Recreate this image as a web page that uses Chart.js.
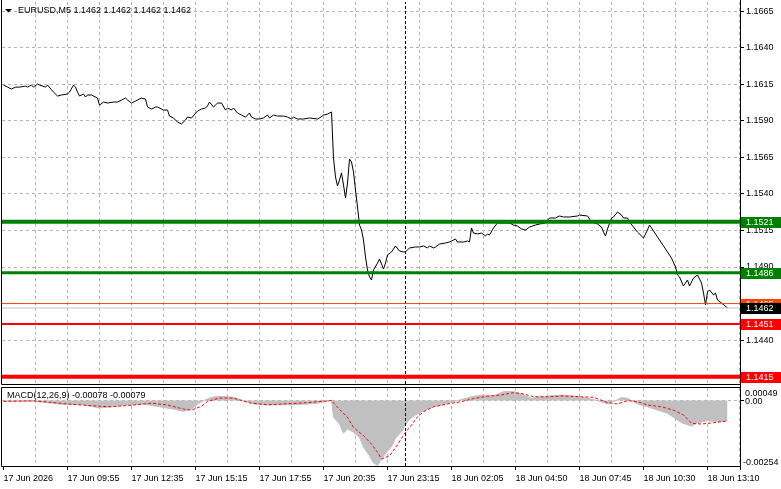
<!DOCTYPE html>
<html>
<head>
<meta charset="utf-8">
<title>EURUSD M5</title>
<script src="https://cdn.jsdelivr.net/npm/chart.js@4.4.1/dist/chart.umd.min.js"></script>
<style>
  html, body { margin: 0; padding: 0; background: #fff; }
  #wrap { position: relative; width: 781px; height: 489px; overflow: hidden; }
  canvas { position: absolute; left: 0; }
  #price { top: 0; }
  #macd { top: 386px; }
</style>
</head>
<body>
<div id="wrap">
  <canvas id="price" width="781" height="386"></canvas>
  <canvas id="macd" width="781" height="103"></canvas>
</div>
<script>
// M5 bars, counted from the first bar on screen
const priceBars = [0, 2, 4, 6, 8, 11, 12, 14, 15, 17, 18, 21, 22, 25, 27, 29, 32, 33, 35, 36, 37, 38, 40, 41, 42, 44, 47, 48, 50, 52, 55, 57, 59, 61, 62, 64, 66, 67, 69, 71, 72, 74, 76, 77, 80, 82, 83, 85, 87, 89, 91, 92, 94, 97, 99, 101, 102, 103, 105, 107, 109, 111, 112, 114, 115, 117, 119, 121, 123, 124, 126, 128, 130, 132, 133, 135, 137, 140, 142, 144, 145, 147, 150, 153, 157, 158, 160, 162, 164, 165, 166, 167, 168, 169, 170, 171, 172, 173, 174, 175, 176, 177, 178, 179, 180, 181, 182, 183, 184, 185, 187, 188, 190, 191, 192, 194, 196, 198, 200, 201, 203, 206, 208, 210, 212, 213, 215, 216, 218, 221, 223, 226, 227, 230, 232, 233, 234, 235, 237, 239, 241, 242, 243, 245, 247, 249, 253, 255, 257, 259, 261, 263, 266, 268, 271, 273, 276, 278, 280, 283, 287, 288, 292, 294, 297, 299, 300, 301, 302, 304, 305, 307, 309, 310, 312, 313, 315, 317, 320, 322, 323, 324, 327, 329, 332, 334, 336, 337, 338, 340, 342, 343, 345, 347, 349, 350, 351, 352, 353, 355, 356, 357, 359, 362];
const priceClose = [1.16144, 1.16130, 1.16117, 1.16130, 1.16130, 1.16137, 1.16130, 1.16144, 1.16130, 1.16151, 1.16144, 1.16130, 1.16144, 1.16096, 1.16069, 1.16076, 1.16083, 1.16096, 1.16144, 1.16130, 1.16096, 1.16069, 1.16083, 1.16062, 1.16076, 1.16076, 1.16055, 1.16007, 1.16028, 1.16021, 1.16028, 1.16028, 1.16042, 1.16055, 1.16042, 1.16021, 1.16035, 1.16042, 1.16055, 1.16048, 1.15994, 1.15980, 1.15994, 1.15994, 1.15973, 1.15973, 1.15932, 1.15919, 1.15891, 1.15878, 1.15905, 1.15925, 1.15919, 1.15966, 1.15980, 1.15987, 1.16001, 1.16028, 1.15994, 1.16021, 1.16021, 1.15973, 1.15987, 1.15973, 1.15987, 1.15953, 1.15939, 1.15925, 1.15953, 1.15925, 1.15912, 1.15912, 1.15919, 1.15939, 1.15919, 1.15939, 1.15932, 1.15932, 1.15925, 1.15912, 1.15925, 1.15912, 1.15912, 1.15919, 1.15912, 1.15919, 1.15939, 1.15946, 1.15960, 1.15645, 1.15515, 1.15454, 1.15495, 1.15543, 1.15461, 1.15372, 1.15474, 1.15638, 1.15618, 1.15549, 1.15426, 1.15310, 1.15187, 1.15153, 1.15085, 1.14968, 1.14880, 1.14832, 1.14811, 1.14880, 1.14927, 1.14955, 1.14886, 1.14927, 1.14982, 1.15003, 1.15044, 1.15009, 1.15003, 1.15003, 1.15030, 1.15037, 1.15037, 1.15044, 1.15030, 1.15044, 1.15030, 1.15037, 1.15057, 1.15064, 1.15071, 1.15091, 1.15071, 1.15071, 1.15078, 1.15071, 1.15167, 1.15132, 1.15126, 1.15132, 1.15112, 1.15126, 1.15119, 1.15167, 1.15201, 1.15201, 1.15201, 1.15187, 1.15180, 1.15160, 1.15153, 1.15173, 1.15187, 1.15194, 1.15201, 1.15235, 1.15235, 1.15249, 1.15242, 1.15242, 1.15249, 1.15255, 1.15249, 1.15208, 1.15194, 1.15173, 1.15139, 1.15112, 1.15160, 1.15235, 1.15242, 1.15276, 1.15255, 1.15235, 1.15235, 1.15208, 1.15173, 1.15139, 1.15098, 1.15153, 1.15187, 1.15167, 1.15105, 1.15064, 1.15003, 1.14961, 1.14900, 1.14845, 1.14832, 1.14770, 1.14811, 1.14770, 1.14825, 1.14845, 1.14791, 1.14722, 1.14640, 1.14729, 1.14743, 1.14709, 1.14722, 1.14674, 1.14654, 1.14620];

const macdBars = [0, 15, 24, 27, 32, 40, 48, 54, 62, 70, 78, 85, 90, 94, 97, 100, 104, 108, 115, 120, 125, 132, 140, 148, 157, 164, 165, 168, 170, 172, 175, 178, 180, 183, 185, 187, 189, 191, 194, 196, 199, 202, 205, 210, 215, 222, 227, 234, 239, 245, 250, 255, 260, 264, 269, 279, 285, 292, 297, 302, 305, 309, 312, 317, 322, 327, 332, 335, 339, 344, 347, 352, 357, 362];
const macdMain = [-0.00002, -0.00002, -0.00010, -0.00013, -0.00016, -0.00016, -0.00029, -0.00024, -0.00016, -0.00013, -0.00024, -0.00033, -0.00042, -0.00033, -0.00013, 0, 0.00013, 0.00017, 0.00013, 0, -0.00013, -0.00017, -0.00016, -0.00016, -0.00010, 0.00002, -0.00065, -0.00091, -0.00127, -0.00110, -0.00123, -0.00143, -0.00181, -0.00214, -0.00242, -0.00252, -0.00228, -0.00205, -0.00179, -0.00146, -0.00121, -0.00082, -0.00060, -0.00039, -0.00024, -0.00010, 0, 0.00015, 0.00022, 0.00018, 0.00035, 0.00035, 0.00022, 0.00009, 0.00015, 0.00022, 0.00018, 0.00009, 0, -0.00013, -0.00004, 0.00012, 0.00009, -0.00013, -0.00024, -0.00037, -0.00049, -0.00065, -0.00086, -0.00099, -0.00086, -0.00078, -0.00082, -0.00078];

const signalBars = [0, 15, 24, 32, 48, 54, 65, 74, 82, 90, 94, 99, 102, 108, 115, 119, 124, 132, 140, 148, 164, 167, 172, 175, 180, 184, 187, 189, 193, 197, 200, 204, 207, 210, 215, 222, 229, 235, 242, 249, 255, 260, 265, 272, 280, 289, 295, 302, 307, 312, 317, 322, 329, 335, 340, 344, 349, 355, 362];
const macdSignal = [-0.00003, -0.00001, -0.00007, -0.00013, -0.00022, -0.00024, -0.00017, -0.00010, -0.00017, -0.00033, -0.00037, -0.00022, -0.00003, 0.00010, 0.00010, 0, -0.00010, -0.00016, -0.00013, -0.00010, 0, -0.00026, -0.00065, -0.00104, -0.00136, -0.00169, -0.00201, -0.00227, -0.00215, -0.00172, -0.00134, -0.00095, -0.00063, -0.00043, -0.00024, -0.00013, -0.00004, 0.00008, 0.00017, 0.00022, 0.00031, 0.00026, 0.00015, 0.00015, 0.00018, 0.00015, 0.00013, -0.00008, -0.00013, 0, -0.00004, -0.00017, -0.00024, -0.00037, -0.00056, -0.00088, -0.00091, -0.00086, -0.00079];

const timeLabels = ['17 Jun 2026', '17 Jun 09:55', '17 Jun 12:35', '17 Jun 15:15', '17 Jun 17:55', '17 Jun 20:35', '17 Jun 23:15', '18 Jun 02:05', '18 Jun 04:50', '18 Jun 07:45', '18 Jun 10:30', '18 Jun 13:10'];
const priceTicks = [1.1665, 1.1640, 1.1615, 1.1590, 1.1565, 1.1540, 1.1515, 1.1490, 1.1465, 1.1440, 1.1415];
const macdTicks = [0.00049, 0, -0.00254];

const greenLevels = [1.1521, 1.1486];
const redLevels = [1.1451, 1.1415];
const askPrice = 1.1465;
const lastPrice = 1.1462;
const separatorBar = 201;

const titleText = 'EURUSD,M5 1.1462 1.1462 1.1462 1.1462';
const macdText = 'MACD(12,26,9) -0.00078 -0.00079';

// ---- look ----
const GRID = '#b4b4b4';
const GREEN = '#008000';
const RED = '#ff0000';
const ORANGE = '#ff4500';
const FONT = '9px "Liberation Sans", Arial, sans-serif';
const X_MIN = -0.75, X_MAX = 368.25;
const P_MIN = 1.14100, P_MAX = 1.16712;
const M_MIN = -0.00254, M_MAX = 0.00049;

Chart.defaults.font.family = '"Liberation Sans", Arial, sans-serif';
Chart.defaults.font.size = 9;
Chart.defaults.color = '#000';
Chart.defaults.animation = false;
Chart.defaults.events = [];
Chart.defaults.plugins.legend.display = false;
Chart.defaults.plugins.tooltip.enabled = false;
Chart.defaults.elements.point.radius = 0;
Chart.defaults.elements.line.borderWidth = 1;

const gridBars = [];
for (let k = 0; k < timeLabels.length * 2; k++) gridBars.push(k * 16);

function hline(v, color, width, order) {
  return { data: [{x: X_MIN, y: v}, {x: X_MAX, y: v}], borderColor: color, borderWidth: width, order: order };
}

// scales keep exactly the box the layout gives them
function fixSize(w, h) {
  return s => {
    if (w !== null) s.width = w;
    if (h !== null) s.height = h;
    s.paddingTop = 0; s.paddingBottom = 0; s.paddingLeft = 0; s.paddingRight = 0;
  };
}

// frame, axis line and panel caption
const panel = {
  id: 'panel',
  afterDraw(chart, args, o) {
    const {ctx, chartArea: a} = chart;
    ctx.save();
    ctx.strokeStyle = '#000';
    ctx.lineWidth = 1;
    ctx.beginPath();
    ctx.moveTo(a.left - 0.5, o.macd ? a.top - 0.5 : 0);
    ctx.lineTo(a.left - 0.5, a.bottom + 0.5);
    ctx.lineTo(a.right + 0.5, a.bottom + 0.5);
    if (o.macd) {
      ctx.moveTo(a.left - 0.5, a.top - 0.5);
      ctx.lineTo(a.right + 0.5, a.top - 0.5);
    }
    ctx.moveTo(a.right + 0.5, 0);
    ctx.lineTo(a.right + 0.5, o.macd ? a.bottom + 4 : chart.height);
    ctx.stroke();

    ctx.font = FONT;
    ctx.fillStyle = '#000';
    ctx.textAlign = 'left';
    ctx.textBaseline = 'middle';
    if (o.macd) {
      ctx.fillText(macdText, a.left + 5, a.top + 8);
    } else {
      ctx.beginPath();
      ctx.moveTo(a.left + 3, a.top + 7);
      ctx.lineTo(a.left + 10, a.top + 7);
      ctx.lineTo(a.left + 6.5, a.top + 10.5);
      ctx.closePath();
      ctx.fill();
      ctx.fillText(titleText, a.left + 16, a.top + 9);
    }
    ctx.restore();
  }
};

// coloured price boxes on the right axis
const priceTags = {
  id: 'priceTags',
  afterDraw(chart) {
    const {ctx, chartArea: a, scales: {y}} = chart;
    const tags = [
      {v: greenLevels[0], bg: GREEN}, {v: greenLevels[1], bg: GREEN},
      {v: askPrice, bg: ORANGE}, {v: lastPrice, bg: '#000'},
      {v: redLevels[0], bg: RED}, {v: redLevels[1], bg: RED}
    ];
    ctx.save();
    ctx.font = FONT;
    ctx.textAlign = 'left';
    ctx.textBaseline = 'middle';
    tags.forEach(t => {
      const py = Math.round(y.getPixelForValue(t.v));
      ctx.fillStyle = t.bg;
      ctx.fillRect(a.right + 1, py - 5, chart.width - a.right - 1, 11);
      ctx.fillStyle = '#fff';
      ctx.fillText(t.v.toFixed(4), a.right + 6, py + 1);
    });
    ctx.restore();
  }
};

// MACD scale labels sit inside the window edges
const macdScaleText = {
  id: 'macdScaleText',
  afterDraw(chart) {
    const {ctx, chartArea: a, scales: {y}} = chart;
    ctx.save();
    ctx.font = FONT;
    ctx.fillStyle = '#000';
    ctx.textAlign = 'left';
    macdTicks.forEach(v => {
      const py = y.getPixelForValue(v);
      if (v > 0) {
        ctx.textBaseline = 'top';
        ctx.fillText(v.toFixed(5), a.right + 5, py + 1);
      } else if (v < 0) {
        ctx.textBaseline = 'alphabetic';
        ctx.fillText(v.toFixed(5), a.right + 3, py - 1);
      } else {
        ctx.textBaseline = 'middle';
        ctx.fillText('0.00', a.right + 5, py + 1);
      }
    });
    ctx.restore();
  }
};

new Chart(document.getElementById('price'), {
  type: 'line',
  data: {
    datasets: [
      hline(greenLevels[0], GREEN, 4, 1),
      hline(greenLevels[1], GREEN, 3, 1),
      hline(redLevels[0], RED, 2, 1),
      hline(redLevels[1], RED, 4, 1),
      hline(askPrice, ORANGE, 1, 1),
      hline(lastPrice, '#c0c0c0', 1, 1),
      {
        data: [{x: separatorBar, y: P_MIN}, {x: separatorBar, y: P_MAX}],
        borderColor: '#000', borderDash: [3, 2], order: 2
      },
      {
        data: priceBars.map((b, i) => ({x: b, y: priceClose[i]})),
        borderColor: '#000', order: 3
      }
    ]
  },
  options: {
    responsive: false,
    layout: { padding: { left: 2, top: 2, bottom: 2, right: 0 }, autoPadding: false },
    scales: {
      x: {
        type: 'linear', min: X_MIN, max: X_MAX,
        afterBuildTicks: s => { s.ticks = gridBars.map(v => ({value: v})); },
        afterFit: fixSize(null, 0),
        grid: { display: true, drawOnChartArea: true, lineWidth: 1, color: c => c.tick && c.tick.value > 0 ? GRID : 'rgba(0,0,0,0)', drawTicks: false },
        border: { display: false, dash: [3, 3] },
        ticks: { display: false }
      },
      y: {
        position: 'right', min: P_MIN, max: P_MAX,
        afterBuildTicks: s => { s.ticks = priceTicks.map(v => ({value: v})); },
        afterFit: fixSize(41, null),
        grid: { display: true, drawOnChartArea: true, lineWidth: 1, color: GRID, tickBorderDash: [], tickColor: '#000', tickLength: 4 },
        border: { display: false, dash: [3, 3] },
        ticks: { padding: 2, color: '#000', callback: v => v.toFixed(4) }
      }
    },
    plugins: { panel: { macd: false } }
  },
  plugins: [panel, priceTags]
});

new Chart(document.getElementById('macd'), {
  type: 'line',
  data: {
    datasets: [
      {
        data: [{x: separatorBar, y: M_MIN}, {x: separatorBar, y: M_MAX}],
        borderColor: '#000', borderDash: [3, 2], order: 1
      },
      {
        data: signalBars.map((b, i) => ({x: b, y: macdSignal[i]})),
        borderColor: RED, borderDash: [3, 2], order: 2
      },
      {
        data: macdBars.map((b, i) => ({x: b, y: macdMain[i]})),
        borderColor: '#c0c0c0', backgroundColor: '#c0c0c0', fill: 'origin', order: 3
      }
    ]
  },
  options: {
    responsive: false,
    layout: { padding: { left: 2, top: 2, bottom: 0, right: 0 }, autoPadding: false },
    scales: {
      x: {
        type: 'linear', min: X_MIN, max: X_MAX,
        afterBuildTicks: s => { s.ticks = gridBars.map(v => ({value: v})); },
        afterFit: fixSize(null, 23),
        grid: {
          display: true, drawOnChartArea: true, lineWidth: 1,
          color: c => c.tick && c.tick.value > 0 ? GRID : 'rgba(0,0,0,0)',
          tickBorderDash: [], tickLength: 4,
          tickColor: c => c.tick && Math.round(c.tick.value) % 32 === 0 ? '#000' : 'rgba(0,0,0,0)'
        },
        border: { display: false, dash: [3, 3] },
        ticks: {
          autoSkip: false, minRotation: 0, maxRotation: 0, align: 'start', padding: 3, color: '#000',
          callback: v => Math.round(v) % 32 === 0 ? timeLabels[Math.round(v) / 32] : ''
        }
      },
      y: {
        position: 'right', min: M_MIN, max: M_MAX,
        afterBuildTicks: s => { s.ticks = macdTicks.map(v => ({value: v})); },
        afterFit: fixSize(41, null),
        grid: {
          display: true, drawOnChartArea: true, lineWidth: 1,
          color: c => c.tick && c.tick.value === 0 ? GRID : 'rgba(0,0,0,0)',
          tickBorderDash: [], tickLength: 4,
          tickColor: c => c.tick && c.tick.value === 0 ? '#000' : 'rgba(0,0,0,0)'
        },
        border: { display: false, dash: [3, 3] },
        ticks: { display: false }
      }
    },
    plugins: { panel: { macd: true } }
  },
  plugins: [panel, macdScaleText]
});
</script>
</body>
</html>
